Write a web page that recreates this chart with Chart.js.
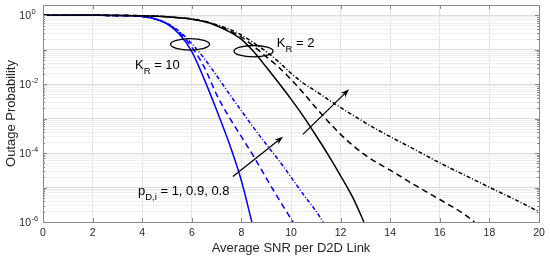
<!DOCTYPE html>
<html>
<head>
<meta charset="utf-8">
<script src="https://cdn.jsdelivr.net/npm/chart.js@4.4.1/dist/chart.umd.min.js"></script>
<style>
  html, body { margin: 0; padding: 0; background: #fff; }
  #wrap { width: 550px; height: 260px; }
</style>
</head>
<body>
<div id="wrap"><canvas id="outageChart" width="550" height="260"></canvas></div>
<script>
// K_R = 10 curves (blue)
const snrBlueSolid = [0, 2, 3, 3.5, 4, 4.5, 5, 5.5, 6, 6.5, 7, 7.5, 8, 8.42];
const pBlueSolid = [1, 1, 0.995, 0.982, 0.933, 0.794, 0.562, 0.282, 0.0891, 0.0141, 1.78e-3, 2.0e-4, 1.58e-5, 1e-6];

const snrBlueDash = [0, 2, 3, 3.5, 4, 4.5, 5, 5.5, 6, 6.5, 7, 7.5, 8, 8.5, 9, 9.5, 10.08];
const pBlueDash = [1, 1, 0.996, 0.982, 0.933, 0.794, 0.575, 0.316, 0.120, 0.0316, 5.0e-3, 1.12e-3, 3.0e-4, 7.9e-5, 1.9e-5, 4.7e-6, 1e-6];

const snrBlueDot = [0, 2, 3, 3.5, 4, 4.5, 5, 5.5, 6, 6.5, 7, 7.5, 8, 8.5, 9, 9.5, 10, 10.5, 11, 11.3];
const pBlueDot = [1, 1, 0.996, 0.982, 0.933, 0.794, 0.589, 0.339, 0.151, 0.0562, 0.0178, 5.4e-3, 1.7e-3, 5.4e-4, 1.8e-4, 6.3e-5, 2.0e-5, 6.3e-6, 2.1e-6, 1e-6];

// K_R = 2 curves (black)
const snrBlackSolid = [0, 2, 3, 4, 5, 5.5, 6, 6.5, 7, 7.5, 8, 8.5, 9, 9.5, 10, 10.5, 11, 11.5, 12, 12.5, 12.94];
const pBlackSolid = [1, 1, 0.998, 0.977, 0.912, 0.851, 0.776, 0.661, 0.501, 0.339, 0.2, 0.0871, 0.0316, 0.011, 3.7e-3, 1.17e-3, 3.3e-4, 8.9e-5, 2.2e-5, 5.0e-6, 1e-6];

const snrBlackDash = [0, 2, 3, 4, 5, 5.5, 6, 6.5, 7, 7.5, 8, 8.5, 9, 9.5, 10, 10.5, 11, 11.5, 12, 12.5, 13, 13.5, 14, 15, 16, 17, 17.4];
const pBlackDash = [1, 1, 0.998, 0.977, 0.912, 0.851, 0.776, 0.661, 0.513, 0.363, 0.234, 0.126, 0.0631, 0.0316, 0.0138, 5.6e-3, 2.1e-3, 8.3e-4, 3.5e-4, 1.66e-4, 8.7e-5, 5.1e-5, 3.2e-5, 1.17e-5, 4.5e-6, 1.66e-6, 1e-6];

const snrBlackDot = [0, 2, 3, 4, 5, 5.5, 6, 6.5, 7, 7.5, 8, 8.5, 9, 9.5, 10, 10.5, 11, 11.5, 12, 12.5, 13, 13.5, 14, 15, 16, 17, 18, 19, 20];
const pBlackDot = [1, 1, 0.998, 0.977, 0.912, 0.851, 0.794, 0.676, 0.537, 0.398, 0.269, 0.158, 0.0891, 0.0447, 0.0209, 0.0107, 6.3e-3, 3.6e-3, 2.1e-3, 1.26e-3, 7.6e-4, 4.7e-4, 3.0e-4, 1.26e-4, 5.2e-5, 2.3e-5, 1.02e-5, 4.6e-6, 2.0e-6];

// axis ticks
const xTickStep = 2;
const yTickValues = [1, 1e-2, 1e-4, 1e-6];
const yTickExponents = ['0', '-2', '-4', '-6'];

// annotations (data coordinates)
const ellipseCenters = [{ x: 5.93, y: 0.144 }, { x: 8.49, y: 0.091 }];
const arrows = [
  { from: { x: 7.66, y: 2.1e-5 }, to: { x: 9.68, y: 3.0e-4 } },
  { from: { x: 10.48, y: 3.5e-4 }, to: { x: 12.34, y: 7.1e-3 } },
];
const labels = [
  { x: 3.71, y: 0.0275, main: 'K', sub: 'R', rest: ' = 10' },
  { x: 9.43, y: 0.121, main: 'K', sub: 'R', rest: ' = 2' },
  { x: 3.83, y: 6.2e-6, main: 'p', sub: 'D,i', rest: ' = 1, 0.9, 0.8' },
];

const FONT = '"Liberation Sans", Arial, Helvetica, sans-serif';

function toPoints(xs, ys) {
  return xs.map((x, i) => ({ x, y: ys[i] }));
}

function isDecade(v) {
  const e = Math.log10(v);
  return Math.abs(e - Math.round(e)) < 1e-6;
}

// minor + major grid positions for the log axis
function buildLogTicks() {
  const ticks = [];
  for (let e = -6; e <= 0; e++) {
    for (let m = 1; m <= 9; m++) {
      const v = m * Math.pow(10, e);
      if (v <= 2.0001) ticks.push({ value: v });
    }
  }
  return ticks;
}

function line(label, xs, ys, color, dash) {
  return {
    label,
    data: toPoints(xs, ys),
    borderColor: color,
    borderWidth: 1.5,
    borderDash: dash,
    pointRadius: 0,
    cubicInterpolationMode: 'monotone',
    fill: false,
  };
}

/**
 * Box, inside tick marks, y labels with superscripts and annotations
 */
const decorPlugin = {
  id: 'decor',
  afterDatasetsDraw(chart) {
    const { ctx, chartArea: a, scales: { x, y } } = chart;
    ctx.save();

    // box
    ctx.strokeStyle = '#8a8a8a';
    ctx.lineWidth = 1;
    ctx.strokeRect(Math.round(a.left) + 0.5, Math.round(a.top) + 0.5,
      Math.round(a.right - a.left), Math.round(a.bottom - a.top));

    // inside tick marks
    ctx.beginPath();
    for (let v = 0; v <= 20; v += xTickStep) {
      const px = Math.round(x.getPixelForValue(v)) + 0.5;
      ctx.moveTo(px, a.bottom); ctx.lineTo(px, a.bottom - 4);
      ctx.moveTo(px, a.top); ctx.lineTo(px, a.top + 4);
    }
    y.ticks.forEach(t => {
      const py = Math.round(y.getPixelForValue(t.value)) + 0.5;
      const len = isDecade(t.value) ? 4 : 2;
      ctx.moveTo(a.left, py); ctx.lineTo(a.left + len, py);
      ctx.moveTo(a.right, py); ctx.lineTo(a.right - len, py);
    });
    ctx.stroke();

    // y tick labels 10^k
    ctx.fillStyle = '#262626';
    yTickValues.forEach((v, i) => {
      const py = y.getPixelForValue(v);
      ctx.font = `10.5px ${FONT}`;
      ctx.textAlign = 'right';
      ctx.textBaseline = 'middle';
      ctx.fillText('10', 31, py + 1);
      ctx.font = `7.5px ${FONT}`;
      ctx.textAlign = 'left';
      ctx.fillText(yTickExponents[i], 31.5, py - 3);
    });

    // ellipses
    ctx.strokeStyle = '#000';
    ctx.lineWidth = 1.3;
    ellipseCenters.forEach(c => {
      ctx.beginPath();
      ctx.ellipse(x.getPixelForValue(c.x), y.getPixelForValue(c.y), 19.5, 5.7, 0, 0, Math.PI * 2);
      ctx.stroke();
    });

    // arrows
    ctx.fillStyle = '#000';
    arrows.forEach(ar => {
      const x0 = x.getPixelForValue(ar.from.x), y0 = y.getPixelForValue(ar.from.y);
      const x1 = x.getPixelForValue(ar.to.x), y1 = y.getPixelForValue(ar.to.y);
      const ang = Math.atan2(y1 - y0, x1 - x0);
      ctx.beginPath();
      ctx.moveTo(x0, y0);
      ctx.lineTo(x1 - 5 * Math.cos(ang), y1 - 5 * Math.sin(ang));
      ctx.stroke();
      ctx.beginPath();
      ctx.moveTo(x1, y1);
      ctx.lineTo(x1 - 9 * Math.cos(ang - 0.35), y1 - 9 * Math.sin(ang - 0.35));
      ctx.lineTo(x1 - 6 * Math.cos(ang), y1 - 6 * Math.sin(ang));
      ctx.lineTo(x1 - 9 * Math.cos(ang + 0.35), y1 - 9 * Math.sin(ang + 0.35));
      ctx.closePath();
      ctx.fill();
    });

    // text labels with subscripts
    ctx.fillStyle = '#000';
    ctx.textAlign = 'left';
    ctx.textBaseline = 'alphabetic';
    labels.forEach(l => {
      let px = x.getPixelForValue(l.x);
      const py = y.getPixelForValue(l.y);
      ctx.font = `13px ${FONT}`;
      ctx.fillText(l.main, px, py);
      px += ctx.measureText(l.main).width;
      ctx.font = `9.5px ${FONT}`;
      ctx.fillText(l.sub, px, py + 5);
      px += ctx.measureText(l.sub).width;
      ctx.font = `13px ${FONT}`;
      ctx.fillText(l.rest, px, py);
    });

    ctx.restore();
  },
};

document.addEventListener('DOMContentLoaded', () => {
  const ctx = document.getElementById('outageChart').getContext('2d');

  new Chart(ctx, {
    type: 'line',
    data: {
      datasets: [
        line('K_R=2, p=0.8', snrBlackDot, pBlackDot, '#000000', [4, 2, 1, 2]),
        line('K_R=2, p=0.9', snrBlackDash, pBlackDash, '#000000', [6, 4]),
        line('K_R=2, p=1', snrBlackSolid, pBlackSolid, '#000000', []),
        line('K_R=10, p=0.8', snrBlueDot, pBlueDot, '#0000ff', [4, 2, 1, 2]),
        line('K_R=10, p=0.9', snrBlueDash, pBlueDash, '#0000ff', [6, 4]),
        line('K_R=10, p=1', snrBlueSolid, pBlueSolid, '#0000ff', []),
      ],
    },
    options: {
      responsive: false,
      animation: false,
      events: [],
      layout: { padding: { top: 5, right: 11, left: 0, bottom: 0 } },
      plugins: {
        legend: { display: false },
        tooltip: { enabled: false },
      },
      scales: {
        x: {
          type: 'linear',
          min: 0,
          max: 20,
          ticks: {
            stepSize: xTickStep,
            padding: 5,
            color: '#262626',
            font: { family: FONT, size: 10.5 },
          },
          grid: { color: '#e2e2e2', drawTicks: false },
          border: { display: false },
          title: {
            display: true,
            text: 'Average SNR per D2D Link',
            color: '#262626',
            font: { family: FONT, size: 13 },
            padding: { top: 0, bottom: 4 },
          },
          afterFit: s => { s.height = 38; },
        },
        y: {
          type: 'logarithmic',
          min: 1e-6,
          max: 2,
          afterBuildTicks: s => { s.ticks = buildLogTicks(); },
          ticks: { display: false, autoSkip: false },
          grid: {
            color: c => (c.tick && isDecade(c.tick.value) ? '#dcdcdc' : '#efefef'),
            drawTicks: false,
          },
          border: { display: false },
          title: {
            display: true,
            text: 'Outage Probability',
            color: '#262626',
            font: { family: FONT, size: 13 },
            padding: { top: 4, bottom: 0 },
          },
          afterFit: s => { s.width = 43; },
        },
      },
    },
    plugins: [decorPlugin],
  });
});
</script>
</body>
</html>
